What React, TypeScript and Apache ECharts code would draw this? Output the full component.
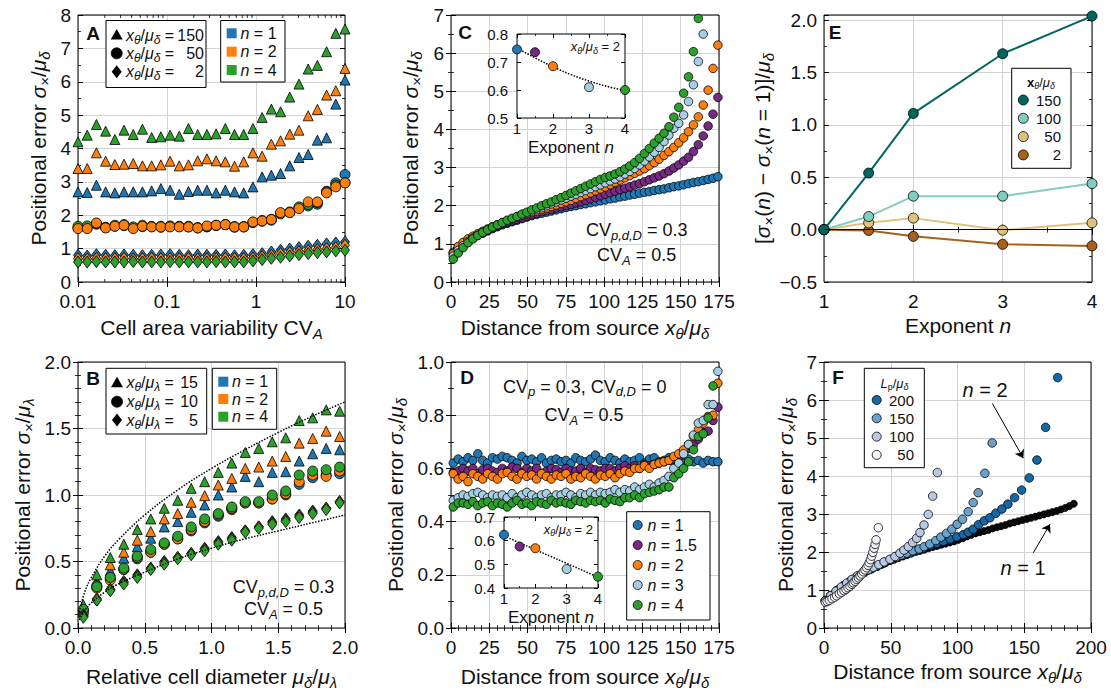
import React, { useEffect, useRef } from 'react';
import * as echarts from 'echarts';

const FONT = '"Liberation Sans", Arial, Helvetica, sans-serif';
const TXT = '#111111';
const GRID_LINE = '#d3d3d3';
const BLUE = '#1f77b4';
const ORANGE = '#ff7f0e';
const GREEN = '#2ca02c';
const PURPLE = '#762a83';
const LBLUE = '#a6cee3';
const E_COLORS = ['#01665e', '#80cdc1', '#dfc27d', '#a6611a'];
const F_COLORS = ['#1468a6', '#6aa2cd', '#b8c9e6', '#f3f4f9'];
const INSET_COLORS = [BLUE, PURPLE, ORANGE, LBLUE, GREEN];

// ---------------- Panel A ----------------
const A_CVA = [0.01, 0.01269, 0.0161, 0.02043, 0.02593, 0.0329, 0.04175, 0.05298, 0.06723, 0.08532,
  0.10826, 0.13738, 0.17433, 0.22122, 0.28072, 0.35622, 0.45204, 0.57362, 0.7279, 0.92367,
  1.1721, 1.4874, 1.8874, 2.395, 3.0392, 3.8566, 4.8939, 6.2102, 7.8805, 10];
const A_TRI_N1 = [2.7, 2.68, 2.9, 2.7, 2.67, 2.7, 2.7, 2.7, 2.73, 2.8, 2.75, 2.63, 2.71, 2.75, 2.75,
  2.67, 2.75, 2.7, 2.67, 2.85, 3.15, 3.2, 3.25, 3.48, 3.73, 3.82, 4.25, 4.32, 5.33, 6.05];
const A_TRI_N2 = [3.4, 3.4, 3.87, 3.62, 3.52, 3.53, 3.55, 3.48, 3.48, 3.51, 3.62, 3.48, 3.51, 3.63, 3.69,
  3.63, 3.6, 3.47, 3.6, 3.87, 3.77, 4.13, 4.23, 4.43, 4.55, 4.98, 5.17, 5.6, 5.73, 6.4];
const A_TRI_N4 = [4.2, 4.4, 4.72, 4.52, 4.27, 4.55, 4.42, 4.58, 4.33, 4.35, 4.4, 4.37, 4.6, 4.42, 4.42,
  4.44, 4.6, 4.42, 4.42, 4.6, 4.93, 5.18, 5.1, 5.54, 5.93, 6.38, 6.49, 6.9, 7.45, 7.58];
const A_CIR_N1 = [1.62, 1.63, 1.73, 1.63, 1.67, 1.69, 1.62, 1.66, 1.66, 1.64, 1.66, 1.66, 1.65, 1.63, 1.65,
  1.69, 1.72, 1.64, 1.65, 1.78, 1.82, 1.88, 2.06, 2.08, 2.22, 2.28, 2.33, 2.72, 2.97, 3.22];
const A_CIR_N2 = [1.6, 1.6, 1.77, 1.62, 1.67, 1.7, 1.6, 1.67, 1.65, 1.65, 1.65, 1.65, 1.65, 1.62, 1.68,
  1.7, 1.72, 1.65, 1.65, 1.8, 1.83, 1.87, 2.08, 2.08, 2.2, 2.4, 2.4, 2.67, 2.85, 2.97];
const A_CIR_N4 = [1.67, 1.68, 1.75, 1.64, 1.7, 1.72, 1.65, 1.7, 1.66, 1.67, 1.68, 1.67, 1.67, 1.62, 1.66,
  1.7, 1.72, 1.66, 1.66, 1.79, 1.84, 1.85, 2.04, 2.1, 2.25, 2.32, 2.38, 2.7, 2.9, 2.98];
const A_DIA_N1 = [0.8, 0.78, 0.82, 0.8, 0.79, 0.81, 0.8, 0.79, 0.8, 0.81, 0.82, 0.8, 0.79, 0.81, 0.8,
  0.8, 0.81, 0.79, 0.8, 0.82, 0.85, 0.9, 0.95, 0.99, 1.03, 1.07, 1.1, 1.14, 1.17, 1.2];
const A_DIA_N2 = [0.7, 0.69, 0.71, 0.7, 0.7, 0.71, 0.69, 0.7, 0.71, 0.7, 0.7, 0.7, 0.71, 0.69, 0.7,
  0.7, 0.71, 0.7, 0.7, 0.72, 0.76, 0.8, 0.85, 0.88, 0.91, 0.94, 0.97, 1.0, 1.03, 1.1];
const A_DIA_N4 = [0.6, 0.6, 0.61, 0.6, 0.6, 0.6, 0.61, 0.6, 0.6, 0.6, 0.61, 0.6, 0.6, 0.6, 0.6,
  0.61, 0.6, 0.6, 0.6, 0.63, 0.67, 0.71, 0.74, 0.78, 0.82, 0.85, 0.88, 0.9, 0.93, 0.95];
const LOG_MINOR = [0.02, 0.03, 0.04, 0.05, 0.06, 0.07, 0.08, 0.09, 0.2, 0.3, 0.4, 0.5, 0.6, 0.7, 0.8, 0.9,
  2, 3, 4, 5, 6, 7, 8, 9];

// ---------------- Panel B ----------------
const B_D = [0.04, 0.141, 0.242, 0.343, 0.444, 0.545, 0.646, 0.747, 0.848, 0.949,
  1.051, 1.152, 1.253, 1.354, 1.455, 1.556, 1.657, 1.758, 1.859, 1.96];
const B_TRI_N1 = [0.125, 0.33, 0.43, 0.525, 0.61, 0.675, 0.76, 0.8, 0.87, 0.925, 1.0, 1.06, 1.14, 1.1, 1.17, 1.175, 1.255, 1.31, 1.35, 1.34];
const B_TRI_N2 = [0.14, 0.35, 0.475, 0.57, 0.66, 0.725, 0.82, 0.86, 0.945, 0.995, 1.075, 1.125, 1.2, 1.21, 1.255, 1.29, 1.39, 1.425, 1.48, 1.44];
const B_TRI_N4 = [0.175, 0.4, 0.53, 0.63, 0.74, 0.82, 0.9, 0.96, 1.05, 1.1, 1.17, 1.24, 1.32, 1.35, 1.4, 1.43, 1.56, 1.58, 1.64, 1.63];
const B_CIR_N1 = [0.13, 0.32, 0.37, 0.44, 0.52, 0.57, 0.63, 0.67, 0.73, 0.79, 0.84, 0.89, 0.94, 0.94, 0.97, 1.0, 1.08, 1.13, 1.15, 1.16];
const B_CIR_N2 = [0.12, 0.3, 0.36, 0.44, 0.53, 0.57, 0.63, 0.67, 0.74, 0.8, 0.85, 0.9, 0.94, 0.94, 0.97, 1.01, 1.1, 1.15, 1.14, 1.18];
const B_CIR_N4 = [0.14, 0.31, 0.38, 0.45, 0.54, 0.59, 0.64, 0.69, 0.76, 0.82, 0.86, 0.91, 0.95, 0.95, 1.0, 1.03, 1.15, 1.18, 1.19, 1.21];
const B_DIA_N1 = [0.1, 0.21, 0.29, 0.35, 0.4, 0.45, 0.5, 0.53, 0.56, 0.6, 0.65, 0.68, 0.73, 0.76, 0.8, 0.82, 0.85, 0.88, 0.9, 0.95];
const B_DIA_N2 = [0.09, 0.22, 0.29, 0.34, 0.39, 0.45, 0.49, 0.53, 0.56, 0.59, 0.64, 0.67, 0.73, 0.76, 0.79, 0.81, 0.84, 0.87, 0.9, 0.95];
const B_DIA_N4 = [0.08, 0.21, 0.28, 0.33, 0.38, 0.44, 0.48, 0.52, 0.55, 0.58, 0.63, 0.66, 0.72, 0.75, 0.78, 0.8, 0.83, 0.86, 0.89, 0.94];
const B_BOUND_X = [0.01, 0.05, 0.1, 0.2, 0.3, 0.5, 0.75, 1.0, 1.25, 1.5, 1.75, 2.0];
const B_UPPER = [0.12, 0.27, 0.38, 0.54, 0.66, 0.85, 1.04, 1.2, 1.34, 1.47, 1.59, 1.7];
const B_LOWER = [0.06, 0.13, 0.19, 0.27, 0.33, 0.42, 0.52, 0.6, 0.67, 0.73, 0.79, 0.85];

// ---------------- Panels C, D (distance from source) ----------------
const DIST_X = [1.5, 4.7, 7.9, 11.1, 14.3, 17.5, 20.7, 23.9, 27.1, 30.3, 33.5,
  36.7, 39.9, 43.1, 46.3, 49.5, 52.7, 55.9, 59.1, 62.3, 65.5, 68.7,
  71.9, 75.1, 78.3, 81.5, 84.7, 87.9, 91.1, 94.3, 97.5, 100.7, 103.9,
  107.1, 110.3, 113.5, 116.7, 119.9, 123.1, 126.3, 129.5, 132.7, 135.9, 139.1,
  142.3, 145.5, 148.7, 151.9, 155.1, 158.3, 161.5, 164.7, 167.9, 171.1, 174.3];

const C_N1 = [0.78, 0.9, 1.0, 1.08, 1.15, 1.22, 1.28, 1.34, 1.4, 1.45, 1.5,
  1.54, 1.58, 1.62, 1.66, 1.7, 1.74, 1.77, 1.8, 1.83, 1.86, 1.89,
  1.92, 1.95, 1.98, 2.0, 2.03, 2.05, 2.08, 2.1, 2.13, 2.15, 2.18,
  2.2, 2.23, 2.25, 2.28, 2.3, 2.33, 2.35, 2.37, 2.4, 2.42, 2.44,
  2.47, 2.5, 2.52, 2.55, 2.58, 2.61, 2.63, 2.66, 2.69, 2.72, 2.76];
const C_N15 = [0.74, 0.88, 0.99, 1.08, 1.16, 1.23, 1.29, 1.35, 1.41, 1.46, 1.51,
  1.56, 1.6, 1.64, 1.68, 1.72, 1.76, 1.8, 1.84, 1.87, 1.9, 1.94,
  1.97, 2.0, 2.03, 2.07, 2.1, 2.14, 2.18, 2.22, 2.26, 2.3, 2.34,
  2.38, 2.42, 2.46, 2.5, 2.54, 2.58, 2.63, 2.68, 2.73, 2.78, 2.84,
  2.91, 2.99, 3.07, 3.17, 3.27, 3.42, 3.6, 3.83, 4.09, 4.4, 4.84];
const C_N2 = [0.75, 0.93, 1.04, 1.13, 1.2, 1.27, 1.33, 1.39, 1.45, 1.5, 1.55,
  1.6, 1.65, 1.7, 1.74, 1.78, 1.82, 1.86, 1.9, 1.94, 1.98, 2.02,
  2.06, 2.1, 2.14, 2.19, 2.24, 2.29, 2.34, 2.39, 2.44, 2.49, 2.55,
  2.61, 2.67, 2.73, 2.79, 2.85, 2.91, 2.97, 3.05, 3.13, 3.22, 3.32,
  3.42, 3.53, 3.65, 3.78, 3.94, 4.12, 4.33, 4.64, 5.03, 5.6, 6.21];
const C_N3 = [0.68, 0.83, 0.95, 1.06, 1.15, 1.23, 1.3, 1.37, 1.43, 1.49, 1.55,
  1.6, 1.65, 1.7, 1.75, 1.8, 1.85, 1.9, 1.95, 2.0, 2.05, 2.1,
  2.15, 2.2, 2.25, 2.3, 2.35, 2.4, 2.45, 2.5, 2.55, 2.6, 2.65,
  2.7, 2.76, 2.83, 2.9, 2.98, 3.07, 3.17, 3.28, 3.4, 3.53, 3.68,
  3.85, 4.03, 4.16, 4.38, 4.73, 5.17, 5.78, 6.5];
const C_N4 = [0.6, 0.76, 0.9, 1.03, 1.13, 1.22, 1.3, 1.37, 1.44, 1.5, 1.56,
  1.62, 1.67, 1.72, 1.78, 1.83, 1.89, 1.94, 2.0, 2.05, 2.1, 2.16,
  2.21, 2.27, 2.33, 2.39, 2.45, 2.51, 2.57, 2.63, 2.69, 2.74, 2.78,
  2.83, 2.89, 2.96, 3.04, 3.13, 3.24, 3.37, 3.5, 3.64, 3.77, 3.9,
  4.07, 4.32, 4.58, 4.95, 5.38, 6.04, 6.91];

const D_N1 = [0.62, 0.635, 0.625, 0.64, 0.63, 0.655, 0.63, 0.62, 0.64, 0.635, 0.645,
  0.64, 0.63, 0.62, 0.645, 0.63, 0.635, 0.625, 0.64, 0.62, 0.63, 0.635,
  0.625, 0.63, 0.62, 0.64, 0.63, 0.625, 0.635, 0.65, 0.63, 0.625, 0.64,
  0.63, 0.62, 0.635, 0.625, 0.63, 0.64, 0.62, 0.635, 0.64, 0.625, 0.63,
  0.64, 0.625, 0.63, 0.62, 0.635, 0.625, 0.63, 0.62, 0.63, 0.625, 0.625];
const D_N15 = [0.585, 0.59, 0.6, 0.59, 0.6, 0.58, 0.595, 0.6, 0.59, 0.585, 0.6,
  0.59, 0.605, 0.6, 0.585, 0.6, 0.59, 0.6, 0.58, 0.59, 0.6, 0.595,
  0.585, 0.6, 0.59, 0.59, 0.6, 0.585, 0.6, 0.595, 0.59, 0.6, 0.6,
  0.59, 0.6, 0.61, 0.6, 0.61, 0.6, 0.615, 0.61, 0.615, 0.62, 0.625,
  0.63, 0.635, 0.645, 0.66, 0.675, 0.69, 0.71, 0.735, 0.74, 0.78, 0.83];
const D_N2 = [0.58, 0.56, 0.57, 0.55, 0.58, 0.57, 0.56, 0.58, 0.57, 0.56, 0.58,
  0.585, 0.57, 0.56, 0.58, 0.57, 0.575, 0.56, 0.58, 0.57, 0.56, 0.575,
  0.57, 0.58, 0.56, 0.57, 0.565, 0.58, 0.57, 0.56, 0.575, 0.57, 0.58,
  0.565, 0.58, 0.59, 0.585, 0.6, 0.6, 0.61, 0.6, 0.615, 0.62, 0.625,
  0.63, 0.645, 0.655, 0.67, 0.69, 0.72, 0.745, 0.77, 0.795, 0.8, 0.92];
const D_N3 = [0.48, 0.49, 0.5, 0.495, 0.505, 0.51, 0.5, 0.49, 0.5, 0.495, 0.5,
  0.49, 0.505, 0.49, 0.5, 0.51, 0.5, 0.49, 0.5, 0.505, 0.49, 0.5,
  0.5, 0.51, 0.5, 0.49, 0.505, 0.5, 0.51, 0.5, 0.51, 0.505, 0.51,
  0.52, 0.51, 0.52, 0.515, 0.53, 0.52, 0.53, 0.54, 0.53, 0.545, 0.555,
  0.57, 0.6, 0.62, 0.655, 0.69, 0.725, 0.77, 0.78, 0.84, 0.84, 0.965];
const D_N4 = [0.455, 0.47, 0.47, 0.465, 0.475, 0.46, 0.47, 0.475, 0.46, 0.47, 0.465,
  0.455, 0.47, 0.48, 0.465, 0.47, 0.46, 0.475, 0.47, 0.465, 0.48, 0.47,
  0.475, 0.47, 0.465, 0.48, 0.475, 0.47, 0.48, 0.475, 0.48, 0.47, 0.485,
  0.48, 0.475, 0.49, 0.49, 0.5, 0.49, 0.505, 0.51, 0.515, 0.52, 0.53,
  0.53, 0.565, 0.58, 0.6, 0.625, 0.67, 0.72, 0.73, 0.79, 0.91];

const INSET_N = [1, 1.5, 2, 3, 4];
const C_INSET = [0.745, 0.735, 0.685, 0.61, 0.6];
const D_INSET = [0.625, 0.575, 0.568, 0.48, 0.448];
const FIT_N = [1, 1.5, 2, 2.5, 3, 3.5, 4];
const C_FIT = [0.75, 0.715, 0.683, 0.655, 0.632, 0.613, 0.598];
const D_FIT = [0.62, 0.591, 0.562, 0.533, 0.504, 0.475, 0.446];

// ---------------- Panel E ----------------
const E_N = [1, 1.5, 2, 3, 4];
const E_150 = [0, 0.54, 1.11, 1.68, 2.04];
const E_100 = [0, 0.125, 0.32, 0.32, 0.44];
const E_50 = [0, 0.065, 0.11, -0.005, 0.065];
const E_2 = [0, -0.008, -0.064, -0.14, -0.155];

// ---------------- Panel F ----------------
const F_N1_X = [...DIST_X, 177.5, 180.7, 183.9, 187.1];
const F_N1 = [0.72, 0.83, 0.93, 1.02, 1.1, 1.18, 1.25, 1.32, 1.39, 1.45, 1.51,
  1.56, 1.61, 1.66, 1.71, 1.76, 1.8, 1.84, 1.88, 1.92, 1.96, 2.0,
  2.03, 2.06, 2.1, 2.13, 2.16, 2.19, 2.22, 2.25, 2.28, 2.32, 2.36,
  2.41, 2.45, 2.49, 2.52, 2.55, 2.58, 2.62, 2.65, 2.68, 2.71, 2.75,
  2.78, 2.81, 2.84, 2.87, 2.9, 2.93, 2.96, 2.99, 3.02, 3.05, 3.08,
  3.12, 3.16, 3.21, 3.27];
const F200_X = [1, 5, 10, 15, 20, 25, 30, 35, 40, 45, 50, 55, 60, 64.5, 69.4, 74.4, 79.4, 84.4, 89.4, 94.4,
  99.4, 104.4, 108, 111.75, 115.75, 120, 124.25, 128.75, 133.25, 137.75, 142.75, 148, 153.75, 159.5, 166, 175];
const F200_Y = [0.72, 0.85, 0.99, 1.12, 1.24, 1.35, 1.46, 1.55, 1.63, 1.71, 1.79, 1.86, 1.93, 1.98, 2.04, 2.1, 2.17, 2.23, 2.28, 2.34,
  2.4, 2.46, 2.52, 2.6, 2.72, 2.82, 2.9, 3.02, 3.13, 3.26, 3.43, 3.63, 3.95, 4.42, 5.28, 6.59];
const F150_X = [1, 5, 10, 15, 20, 25, 30, 35, 40, 45, 50, 54, 58, 62, 66.5, 71.25, 75, 79.25, 83.75, 87.5,
  91.75, 95.75, 99.75, 103.75, 108, 111.75, 115.5, 120.5, 126];
const F150_Y = [0.72, 0.85, 0.99, 1.12, 1.24, 1.36, 1.47, 1.56, 1.64, 1.72, 1.8, 1.86, 1.92, 1.97, 2.03, 2.08, 2.14, 2.21, 2.3, 2.39,
  2.49, 2.6, 2.73, 2.86, 3.06, 3.3, 3.56, 4.07, 4.87];
const F100_X = [1, 5, 9, 13, 17, 21, 25, 29, 33, 37, 41, 45, 49.4, 53.2, 56.9, 59.9, 63.2, 66.4, 69.4, 71.9, 74.9, 78.1, 81.4, 84.9];
const F100_Y = [0.72, 0.85, 0.97, 1.08, 1.18, 1.28, 1.37, 1.45, 1.53, 1.6, 1.67, 1.74, 1.81, 1.88, 1.97, 2.05, 2.14, 2.25, 2.36, 2.51, 2.71, 2.99, 3.47, 4.09];
const F50_X = [1, 2.3, 4, 6, 8, 9.5, 11.5, 13.2, 15, 16.5, 18, 19.5, 21, 22, 23.3, 24.5, 25.8, 27, 28.3, 29.5,
  30.7, 31.9, 33, 33.9, 34.8, 35.7, 36.6, 37.5, 38.3, 39, 40.7];
const F50_Y = [0.68, 0.7, 0.73, 0.77, 0.81, 0.85, 0.9, 0.94, 0.98, 1.02, 1.06, 1.1, 1.15, 1.19, 1.23, 1.28, 1.32, 1.37, 1.42, 1.48,
  1.53, 1.59, 1.65, 1.72, 1.8, 1.89, 1.99, 2.1, 2.2, 2.32, 2.64];

// ---------------- text labels ----------------
const POS_NAME = 'Positional error {i|σ}{s|×}/{i|μ}{j|δ}';
const DIST_NAME = 'Distance from source {i|x}{j|θ}/{i|μ}{j|δ}';

const pts = (xs: number[], ys: number[]) => ys.map((y, i) => [xs[i], y]);
const fix1 = (v: number) => (v < -1e-9 ? '−' : '') + Math.abs(v).toFixed(1);

function richE(size: number) {
  const sub = Math.round(size * 0.72);
  return {
    i: { fontStyle: 'italic', fontSize: size, fontFamily: FONT, color: TXT },
    b: { fontWeight: 'bold', fontSize: size, fontFamily: FONT, color: TXT },
    s: { fontSize: sub, fontFamily: FONT, color: TXT, verticalAlign: 'bottom' },
    j: { fontStyle: 'italic', fontSize: sub, fontFamily: FONT, color: TXT, verticalAlign: 'bottom' },
  };
}
function richG(size: number) {
  const sub = Math.round(size * 0.72);
  return {
    i: { fontStyle: 'italic', fontSize: size, fontFamily: FONT, fill: TXT },
    b: { fontWeight: 'bold', fontSize: size, fontFamily: FONT, fill: TXT },
    s: { fontSize: sub, fontFamily: FONT, fill: TXT, verticalAlign: 'bottom' },
    j: { fontStyle: 'italic', fontSize: sub, fontFamily: FONT, fill: TXT, verticalAlign: 'bottom' },
  };
}

function buildOption() {
  const xAxes: any[] = [];
  const yAxes: any[] = [];
  const series: any[] = [];
  const G: any[] = [];

  const gridDefs = [
    { left: 78, top: 15, width: 267, height: 267 },
    { left: 451, top: 15, width: 268, height: 267 },
    { left: 824, top: 15, width: 268, height: 267 },
    { left: 78, top: 362, width: 267, height: 266 },
    { left: 451, top: 362, width: 268, height: 266 },
    { left: 824, top: 362, width: 267, height: 266 },
    { left: 517, top: 34, width: 108, height: 84, inset: true },
    { left: 504, top: 517, width: 94, height: 71, inset: true },
  ];
  const grids = gridDefs.map((g: any) => ({
    left: g.left, top: g.top, width: g.width, height: g.height, show: true,
    borderColor: '#000', borderWidth: 1, backgroundColor: g.inset ? '#fff' : 'transparent',
    z: g.inset ? 5 : 1, containLabel: false,
  }));

  const axis = (dir: 'x' | 'y', gi: number, a: any, mirror: boolean) => {
    const tl = a.tl || 5;
    const o: any = {
      type: a.type || 'value', gridIndex: gi, min: a.min, max: a.max, z: a.z || 0,
      position: dir === 'x' ? (mirror ? 'top' : 'bottom') : (mirror ? 'right' : 'left'),
      axisLine: { show: false },
      axisTick: { show: true, inside: true, length: tl, lineStyle: { color: '#000', width: 1 } },
      minorTick: { show: !!a.minor, splitNumber: a.minor || 5, length: Math.round(tl * 0.55), lineStyle: { color: '#000', width: 0.8 } },
      splitLine: { show: !mirror && a.grid !== false, lineStyle: { color: GRID_LINE, width: 1 } },
      axisLabel: mirror ? { show: false } : {
        show: true, fontFamily: FONT, fontSize: a.fs, color: TXT, margin: a.margin ?? 7,
        formatter: a.fmt, showMaxLabel: a.hideMax ? false : null,
      },
    };
    if (a.interval != null) o.interval = a.interval;
    if (a.type === 'log') o.logBase = 10;
    if (!mirror && a.name) {
      o.name = a.name;
      o.nameLocation = 'middle';
      o.nameGap = a.gap;
      o.nameTextStyle = { fontFamily: FONT, fontSize: a.ns, color: TXT, lineHeight: Math.round(a.ns * 1.3), rich: richE(a.ns) };
    }
    return o;
  };
  const panel = (gi: number, ax: any, ay: any) => {
    const xi = xAxes.length;
    const yi = yAxes.length;
    xAxes.push(axis('x', gi, ax, false), axis('x', gi, ax, true));
    yAxes.push(axis('y', gi, ay, false), axis('y', gi, ay, true));
    return [xi, yi];
  };

  const TF = 19; // tick font
  const NF = 21; // axis name font
  const intFmt = (v: number) => String(Math.round(v));

  const [axA, ayA] = panel(0,
    { type: 'log', min: 0.01, max: 10, fs: TF, margin: 10, fmt: (v: number) => String(parseFloat(Number(v).toPrecision(2))), name: 'Cell area variability CV{j|A}', gap: 32, ns: NF },
    { min: 0, max: 8, interval: 1, minor: 2, fs: TF, fmt: intFmt, name: POS_NAME, gap: 26, ns: NF });
  const [axC, ayC] = panel(1,
    { min: 0, max: 175, interval: 25, minor: 5, fs: TF, margin: 10, fmt: intFmt, name: DIST_NAME, gap: 32, ns: NF },
    { min: 0, max: 7, interval: 1, minor: 2, fs: TF, fmt: intFmt, name: POS_NAME, gap: 27, ns: NF });
  const [axE, ayE] = panel(2,
    { min: 1, max: 4, interval: 1, minor: 2, fs: TF, margin: 10, fmt: intFmt, name: 'Exponent {i|n}', gap: 29, ns: NF },
    { min: -0.5, max: 2.05, interval: 0.5, minor: 2, fs: TF, fmt: fix1, hideMax: true, name: '[{i|σ}{s|×}({i|n}) − {i|σ}{s|×}({i|n} = 1)]/{i|μ}{j|δ}', gap: 45, ns: NF });
  const [axB, ayB] = panel(3,
    { min: 0, max: 2, interval: 0.5, minor: 5, fs: TF, margin: 10, fmt: fix1, name: 'Relative cell diameter {i|μ}{j|δ}/{i|μ}{j|λ}', gap: 35, ns: NF },
    { min: 0, max: 2, interval: 0.5, minor: 5, fs: TF, fmt: fix1, name: 'Positional error {i|σ}{s|×}/{i|μ}{j|λ}', gap: 42, ns: NF });
  const [axD, ayD] = panel(4,
    { min: 0, max: 175, interval: 25, minor: 5, fs: TF, margin: 10, fmt: intFmt, name: DIST_NAME, gap: 35, ns: NF },
    { min: 0, max: 1, interval: 0.2, minor: 2, fs: TF, fmt: fix1, name: POS_NAME, gap: 42, ns: NF });
  const [axF, ayF] = panel(5,
    { min: 0, max: 200, interval: 50, minor: 5, fs: TF, margin: 10, fmt: intFmt, name: DIST_NAME, gap: 30, ns: NF },
    { min: 0, max: 7, interval: 1, minor: 2, fs: TF, fmt: intFmt, name: POS_NAME, gap: 25, ns: NF });
  const [axCi, ayCi] = panel(6,
    { min: 1, max: 4, interval: 1, minor: 2, fs: 15, margin: 3, fmt: intFmt, name: 'Exponent {i|n}', gap: 12, ns: 17, grid: false, z: 6, tl: 4 },
    { min: 0.5, max: 0.8, interval: 0.1, fs: 15, margin: 9, fmt: fix1, grid: false, z: 6, tl: 4 });
  const [axDi, ayDi] = panel(7,
    { min: 1, max: 4, interval: 1, minor: 2, fs: 15, margin: 3, fmt: intFmt, name: 'Exponent {i|n}', gap: 13, ns: 17, grid: false, z: 6, tl: 4 },
    { min: 0.4, max: 0.7, interval: 0.1, fs: 15, margin: 9, fmt: fix1, grid: false, z: 6, tl: 4 });

  const sc = (xi: number, yi: number, data: any[], color: string, symbol: string, size: any, z = 2) => ({
    type: 'scatter', xAxisIndex: xi, yAxisIndex: yi, data, symbol, symbolSize: size, clip: false, z, silent: true,
    itemStyle: { color, borderColor: '#000', borderWidth: 0.8, opacity: 1 },
  });

  // ---- Panel A ----
  series.push({
    type: 'custom', xAxisIndex: axA, yAxisIndex: ayA, silent: true, clip: false, z: 3,
    data: LOG_MINOR.map((v) => [v, 0]),
    renderItem: (_p: any, api: any) => {
      const x = api.value(0);
      const b = api.coord([x, 0]);
      const t = api.coord([x, 8]);
      return {
        type: 'group', children: [
          { type: 'line', shape: { x1: b[0], y1: b[1], x2: b[0], y2: b[1] - 3 }, style: { stroke: '#000', lineWidth: 0.8 } },
          { type: 'line', shape: { x1: t[0], y1: t[1], x2: t[0], y2: t[1] + 3 }, style: { stroke: '#000', lineWidth: 0.8 } },
        ],
      };
    },
  });
  series.push(sc(axA, ayA, pts(A_CVA, A_TRI_N1), BLUE, 'triangle', 10));
  series.push(sc(axA, ayA, pts(A_CVA, A_TRI_N2), ORANGE, 'triangle', 10));
  series.push(sc(axA, ayA, pts(A_CVA, A_TRI_N4), GREEN, 'triangle', 10));
  series.push(sc(axA, ayA, pts(A_CVA, A_CIR_N1), BLUE, 'circle', 10));
  series.push(sc(axA, ayA, pts(A_CVA, A_CIR_N4), GREEN, 'circle', 10));
  series.push(sc(axA, ayA, pts(A_CVA, A_CIR_N2), ORANGE, 'circle', 10));
  series.push(sc(axA, ayA, pts(A_CVA, A_DIA_N1), BLUE, 'diamond', [9, 12]));
  series.push(sc(axA, ayA, pts(A_CVA, A_DIA_N2), ORANGE, 'diamond', [9, 12]));
  series.push(sc(axA, ayA, pts(A_CVA, A_DIA_N4), GREEN, 'diamond', [9, 12]));

  // ---- Panel B ----
  const dotted = (xi: number, yi: number, data: any[], z = 3) => ({
    type: 'line', xAxisIndex: xi, yAxisIndex: yi, data, smooth: 0.4, symbol: 'none', silent: true, clip: false, z,
    lineStyle: { color: '#000', width: 1.5, type: 'dotted' },
  });
  series.push(dotted(axB, ayB, pts(B_BOUND_X, B_UPPER)));
  series.push(dotted(axB, ayB, pts(B_BOUND_X, B_LOWER)));
  series.push(sc(axB, ayB, pts(B_D, B_TRI_N1), BLUE, 'triangle', 10));
  series.push(sc(axB, ayB, pts(B_D, B_TRI_N2), ORANGE, 'triangle', 10));
  series.push(sc(axB, ayB, pts(B_D, B_TRI_N4), GREEN, 'triangle', 10));
  series.push(sc(axB, ayB, pts(B_D, B_CIR_N1), BLUE, 'circle', 10));
  series.push(sc(axB, ayB, pts(B_D, B_CIR_N2), ORANGE, 'circle', 10));
  series.push(sc(axB, ayB, pts(B_D, B_CIR_N4), GREEN, 'circle', 10));
  series.push(sc(axB, ayB, pts(B_D, B_DIA_N1), BLUE, 'diamond', [9, 12]));
  series.push(sc(axB, ayB, pts(B_D, B_DIA_N2), ORANGE, 'diamond', [9, 12]));
  series.push(sc(axB, ayB, pts(B_D, B_DIA_N4), GREEN, 'diamond', [9, 12]));

  // ---- Panel C ----
  series.push(sc(axC, ayC, pts(DIST_X, C_N1), BLUE, 'circle', 8.5));
  series.push(sc(axC, ayC, pts(DIST_X, C_N15), PURPLE, 'circle', 8.5));
  series.push(sc(axC, ayC, pts(DIST_X, C_N2), ORANGE, 'circle', 8.5));
  series.push(sc(axC, ayC, pts(DIST_X, C_N3), LBLUE, 'circle', 8.5));
  series.push(sc(axC, ayC, pts(DIST_X, C_N4), GREEN, 'circle', 8.5));
  series.push(dotted(axCi, ayCi, pts(FIT_N, C_FIT), 7));
  series.push(sc(axCi, ayCi, INSET_N.map((n, i) => ({ value: [n, C_INSET[i]], itemStyle: { color: INSET_COLORS[i] } })), BLUE, 'circle', 9, 8));

  // ---- Panel D ----
  series.push(sc(axD, ayD, pts(DIST_X, D_N1), BLUE, 'circle', 8.5));
  series.push(sc(axD, ayD, pts(DIST_X, D_N15), PURPLE, 'circle', 8.5));
  series.push(sc(axD, ayD, pts(DIST_X, D_N2), ORANGE, 'circle', 8.5));
  series.push(sc(axD, ayD, pts(DIST_X, D_N3), LBLUE, 'circle', 8.5));
  series.push(sc(axD, ayD, pts(DIST_X, D_N4), GREEN, 'circle', 8.5));
  series.push(dotted(axDi, ayDi, pts(FIT_N, D_FIT), 7));
  series.push(sc(axDi, ayDi, INSET_N.map((n, i) => ({ value: [n, D_INSET[i]], itemStyle: { color: INSET_COLORS[i] } })), BLUE, 'circle', 9, 8));

  // ---- Panel E ----
  const eLine = (ys: number[], color: string, extra: any = {}) => ({
    type: 'line', xAxisIndex: axE, yAxisIndex: ayE, data: pts(E_N, ys), symbol: 'circle', symbolSize: 10,
    showAllSymbol: true, clip: false, silent: true, z: 3,
    lineStyle: { color, width: 2 }, itemStyle: { color, borderColor: '#000', borderWidth: 0.8 }, ...extra,
  });
  series.push(eLine(E_2, E_COLORS[3], {
    markLine: { silent: true, symbol: 'none', label: { show: false }, lineStyle: { color: '#000', width: 1, type: 'solid' }, data: [{ yAxis: 0 }] },
  }));
  series.push(eLine(E_50, E_COLORS[2]));
  series.push(eLine(E_100, E_COLORS[1]));
  series.push(eLine(E_150, E_COLORS[0]));

  // ---- Panel F ----
  series.push({
    ...sc(axF, ayF, pts(F_N1_X, F_N1), '#0a0a0a', 'circle', 7),
    markLine: {
      silent: true, symbol: ['none', 'arrow'], symbolSize: 8, label: { show: false },
      lineStyle: { color: '#000', width: 1, type: 'solid' },
      data: [
        [{ coord: [126.1, 5.91] }, { coord: [149.3, 4.47] }],
        [{ coord: [156.8, 1.98] }, { coord: [169.3, 2.73] }],
      ],
    },
  });
  series.push(sc(axF, ayF, pts(F200_X, F200_Y), F_COLORS[0], 'circle', 8.5));
  series.push(sc(axF, ayF, pts(F150_X, F150_Y), F_COLORS[1], 'circle', 8.5));
  series.push(sc(axF, ayF, pts(F100_X, F100_Y), F_COLORS[2], 'circle', 8.5));
  series.push(sc(axF, ayF, pts(F50_X, F50_Y), F_COLORS[3], 'circle', 8.5));

  // ---------------- graphic elements ----------------
  const gtext = (x: number, y: number, text: string, size: number, align = 'left', extra: any = {}) => {
    G.push({
      type: 'text', x, y, z: 20, silent: true,
      style: { text, fontFamily: FONT, fontSize: size, fill: TXT, align, verticalAlign: 'middle', lineHeight: Math.round(size * 1.3), rich: richG(size), ...extra },
    });
  };
  const grect = (x: number, y: number, w: number, h: number) => {
    G.push({ type: 'rect', z: 15, silent: true, shape: { x, y, width: w, height: h }, style: { fill: '#fff', stroke: '#000', lineWidth: 1 } });
  };
  const gcirc = (cx: number, cy: number, r: number, fill: string) => {
    G.push({ type: 'circle', z: 20, silent: true, shape: { cx, cy, r }, style: { fill, stroke: '#000', lineWidth: 0.8 } });
  };
  const gtri = (x: number, y: number) => {
    G.push({ type: 'polygon', z: 20, silent: true, shape: { points: [[x, y - 6], [x + 6, y + 4.5], [x - 6, y + 4.5]] }, style: { fill: '#000' } });
  };
  const gdia = (x: number, y: number) => {
    G.push({ type: 'polygon', z: 20, silent: true, shape: { points: [[x, y - 6.5], [x + 5, y], [x, y + 6.5], [x - 5, y]] }, style: { fill: '#000' } });
  };
  const gsq = (x: number, y: number, fill: string) => {
    G.push({ type: 'rect', z: 20, silent: true, shape: { x: x - 5, y: y - 5, width: 10, height: 10 }, style: { fill } });
  };

  // panel letters
  const letter = (x: number, y: number, t: string) => gtext(x, y, t, 19, 'center', { fontWeight: 'bold' });
  letter(93, 33, 'A');
  letter(465, 32, 'C');
  letter(835, 32, 'E');
  letter(93, 378, 'B');
  letter(467, 377, 'D');
  letter(838, 377, 'F');

  // A legends
  grect(106, 20.5, 100, 67);
  gtri(116.7, 35); gcirc(116.7, 53.3, 5.5, '#000'); gdia(116.7, 71.7);
  gtext(126, 35, '{i|x}{j|θ}/{i|μ}{j|δ} =', 16);
  gtext(126, 53.3, '{i|x}{j|θ}/{i|μ}{j|δ} =', 16);
  gtext(126, 71.7, '{i|x}{j|θ}/{i|μ}{j|δ} =', 16);
  gtext(204, 35, '150', 16, 'right');
  gtext(204, 53.3, '50', 16, 'right');
  gtext(204, 71.7, '2', 16, 'right');
  grect(220.7, 20.5, 64.3, 61.5);
  gsq(231.7, 33.3, BLUE); gsq(231.7, 51.7, ORANGE); gsq(231.7, 70, GREEN);
  gtext(240.5, 33.3, '{i|n} = 1', 16);
  gtext(240.5, 51.7, '{i|n} = 2', 16);
  gtext(240.5, 70, '{i|n} = 4', 16);

  // B legends
  grect(106, 368.3, 100.7, 65.7);
  gtri(117, 382.7); gcirc(117, 401.7, 5.5, '#000'); gdia(117, 420);
  gtext(126.5, 382.7, '{i|x}{j|θ}/{i|μ}{j|λ} =', 16);
  gtext(126.5, 401.7, '{i|x}{j|θ}/{i|μ}{j|λ} =', 16);
  gtext(126.5, 420, '{i|x}{j|θ}/{i|μ}{j|λ} =', 16);
  gtext(198, 382.7, '15', 16, 'right');
  gtext(198, 401.7, '10', 16, 'right');
  gtext(198, 420, '5', 16, 'right');
  grect(212.3, 368.3, 64.4, 61);
  gsq(223.3, 381.7, BLUE); gsq(223.3, 399, ORANGE); gsq(223.3, 416.7, GREEN);
  gtext(232, 381.7, '{i|n} = 1', 16);
  gtext(232, 399, '{i|n} = 2', 16);
  gtext(232, 416.7, '{i|n} = 4', 16);

  // annotations
  gtext(283.5, 587.3, 'CV{j|p,d,D} = 0.3', 18, 'center');
  gtext(283.5, 609.3, 'CV{j|A} = 0.5', 18, 'center');
  gtext(636.7, 230, 'CV{j|p,d,D} = 0.3', 18, 'center');
  gtext(636.7, 255, 'CV{j|A} = 0.5', 18, 'center');
  gtext(584.7, 386.7, 'CV{j|p} = 0.3, CV{j|d,D} = 0', 18, 'center');
  gtext(584, 415, 'CV{j|A} = 0.5', 18, 'center');

  // inset titles
  G.push({ type: 'text', x: 620, y: 46.5, z: 20, silent: true, style: { text: '{i|x}{j|θ}/{i|μ}{j|δ} = 2', fontFamily: FONT, fontSize: 13, fill: TXT, align: 'right', verticalAlign: 'middle', lineHeight: 17, rich: richG(13) } });
  G.push({ type: 'text', x: 593, y: 529.3, z: 20, silent: true, style: { text: '{i|x}{j|θ}/{i|μ}{j|δ} = 2', fontFamily: FONT, fontSize: 13, fill: TXT, align: 'right', verticalAlign: 'middle', lineHeight: 17, rich: richG(13) } });

  // D legend
  grect(626.7, 511.7, 83.3, 108.3);
  const dLabels = ['{i|n} = 1', '{i|n} = 1.5', '{i|n} = 2', '{i|n} = 3', '{i|n} = 4'];
  INSET_COLORS.forEach((c, k) => {
    gcirc(637.7, 525 + 20 * k, 4.5, c);
    gtext(647.5, 525 + 20 * k, dLabels[k], 16);
  });

  // E legend
  grect(1011.7, 68.3, 59.3, 100);
  gtext(1041, 82, '{b|x}{j|θ}/{i|μ}{j|δ}', 13, 'center');
  const eLabels = ['150', '100', '50', '2'];
  E_COLORS.forEach((c, k) => {
    gcirc(1023.3, 100 + 18.3 * k, 5, c);
    gtext(1061, 100 + 18.3 * k, eLabels[k], 15, 'right');
  });

  // F legend
  grect(864.3, 368.3, 60, 99.4);
  gtext(894.5, 383.3, '{i|L}{s|p}/{i|μ}{j|δ}', 13, 'center');
  const fLabels = ['200', '150', '100', '50'];
  F_COLORS.forEach((c, k) => {
    gcirc(876.7, 400 + 18.3 * k, 4.5, c);
    gtext(914, 400 + 18.3 * k, fLabels[k], 15, 'right');
  });
  gtext(985, 390, '{i|n} = 2', 20, 'center');
  gtext(1023, 568, '{i|n} = 1', 20, 'center');

  return {
    animation: false,
    backgroundColor: '#fff',
    textStyle: { fontFamily: FONT },
    grid: grids,
    xAxis: xAxes,
    yAxis: yAxes,
    series,
    graphic: { elements: G },
  };
}

export default function App() {
  const ref = useRef<HTMLDivElement>(null);
  useEffect(() => {
    document.body.style.margin = '0';
    const chart = echarts.init(ref.current as HTMLDivElement, null, { renderer: 'svg' });
    chart.setOption(buildOption() as any);
    return () => chart.dispose();
  }, []);
  return <div ref={ref} style={{ width: 1111, height: 695, background: '#fff' }} />;
}
